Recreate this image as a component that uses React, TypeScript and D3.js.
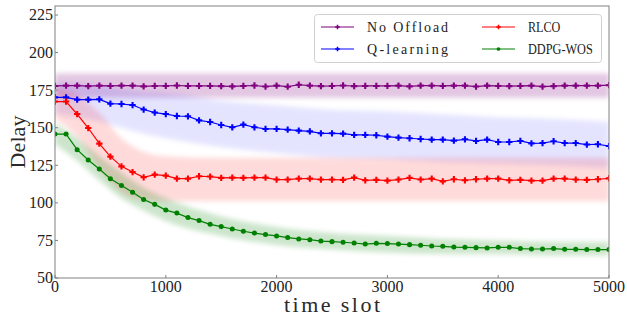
import React from "react";
import * as d3 from "d3";

const W = 627;
const H = 321;
const M = { left: 55, right: 18, top: 6, bottom: 43 };

const seriesNames = ["No Offload", "Q-learning", "RLCO", "DDPG-WOS"];
const seriesColors = ["#800080", "#0000ff", "#ff0000", "#008000"];
const cloudOpacity = [0.22, 0.1, 0.14, 0.2];

const timeSlots = d3.range(0, 5001, 100);

const noOffload = [177.8,178.0,178.0,177.7,178.0,177.8,178.0,178.0,177.5,177.8,177.8,178.1,177.8,177.8,177.8,177.7,177.5,
  177.8,178.1,177.4,178.0,177.3,178.6,178.0,177.7,177.8,178.1,177.7,177.8,177.8,177.8,178.0,177.5,
  178.0,178.0,177.8,178.0,178.0,177.4,178.0,177.8,177.7,177.8,178.0,177.4,177.7,178.0,178.0,178.0,178.0,178.3];
const qLearning = [170.2,170.2,168.7,168.7,168.9,166.0,165.8,165.1,162.1,160.1,159.1,157.8,157.6,154.9,153.8,151.8,150.3,
  152.1,150.3,149.2,149.2,148.7,148.1,147.6,146.3,146.3,146.1,145.2,145.2,145.0,144.1,143.4,143.0,
  142.5,142.1,142.1,141.4,142.3,141.2,142.1,140.5,140.5,141.2,139.6,139.8,141.0,139.8,139.8,138.8,139.0,137.8];
const rlco = [167.4,167.4,159.1,149.8,139.4,130.8,124.3,120.5,117.0,118.8,118.1,116.1,116.1,117.7,117.5,116.6,116.8,
  116.6,116.8,116.8,115.5,115.5,116.1,116.1,115.5,115.5,115.3,116.8,115.0,115.3,114.8,115.5,116.6,
  115.5,116.1,114.3,115.7,115.0,115.7,116.1,116.1,115.0,115.3,114.8,114.8,116.1,116.1,115.5,115.3,115.7,116.3];
const ddpgWos = [145.8,145.8,135.4,128.5,122.5,116.1,111.5,107.0,102.2,99.0,95.2,93.2,90.2,88.2,85.7,84.2,82.6,
  81.1,79.9,78.9,78.0,76.9,76.0,75.5,74.6,74.2,73.8,73.3,72.6,73.1,72.9,72.6,72.2,
  71.8,71.3,71.1,70.6,70.4,70.2,70.0,70.4,70.4,69.6,69.3,69.3,69.6,69.1,69.1,68.9,68.9,68.9];

// spread of the noisy per-slot samples (upper / lower envelopes)
const cloudSlots = [0, 200, 400, 600, 800, 1000, 1500, 2000, 2500, 3000, 3500, 4000, 4500, 5000];
const noOffloadUpper = [186,186,186,186,186,186,186,186,186,186,186,186,186,186];
const noOffloadLower = [170,170,170,170,170,170,170,170,170,170,170,170,170,170];
const qLearningUpper = [180,179,178,176,174,173,168,165,162,161,159,157,156,154];
const qLearningLower = [159,157,154,150,146,143,137,133,130,129,127,126,125,123];
const rlcoUpper = [177,172,160,143,134,131,130,130,130,130,130,130,130,130];
const rlcoLower = [156,144,123,107,102,101,101,101,101,101,101,101,101,101];
const ddpgUpper = [153,143,131,120,110,103,91,84,80,78,76,75,74,74];
const ddpgLower = [139,128,115,103,95,88,78,72,69,67,66,66,65,65];

const xTicks = [0, 1000, 2000, 3000, 4000, 5000];
const yTicks = [50, 75, 100, 125, 150, 175, 200, 225];

const lineValues = [noOffload, qLearning, rlco, ddpgWos];
const uppers = [noOffloadUpper, qLearningUpper, rlcoUpper, ddpgUpper];
const lowers = [noOffloadLower, qLearningLower, rlcoLower, ddpgLower];

export default function App() {
  const x = d3.scaleLinear().domain([0, 5000]).range([M.left, W - M.right]);
  const y = d3.scaleLinear().domain([50, 231]).range([H - M.bottom, M.top]);

  const line = d3.line<number>().x((_, i) => x(timeSlots[i])).y((d) => y(d));
  const area = d3
    .area<number>()
    .x((_, i) => x(cloudSlots[i]))
    .curve(d3.curveMonotoneX);

  const plus = d3.symbol().type(d3.symbolCross).size(22)()!;
  const circle = d3.symbol().type(d3.symbolCircle).size(20)()!;
  const plusSmall = d3.symbol().type(d3.symbolCross).size(12)()!;
  const circleSmall = d3.symbol().type(d3.symbolCircle).size(11)()!;

  const simFont = "'Liberation Serif', 'DejaVu Serif', serif";
  const serif = "'Liberation Serif', 'DejaVu Serif', serif";
  const axisColor = "#808080";
  const x0 = M.left, x1 = W - M.right, y0 = H - M.bottom, y1 = M.top;

  const legendItems = [
    { i: 0, lx: 321, ty: 27, adj: "spacing" },
    { i: 1, lx: 321, ty: 49, adj: "spacing" },
    { i: 2, lx: 482, ty: 27, adj: "spacingAndGlyphs" },
    { i: 3, lx: 482, ty: 49, adj: "spacingAndGlyphs" },
  ];

  return (
    <svg width={W} height={H} style={{ position: "absolute", left: 0, top: 0, background: "#fff" }}>
      <defs>
        <filter id="soft" x="-10%" y="-30%" width="120%" height="160%">
          <feGaussianBlur stdDeviation="2.4" />
        </filter>
        <clipPath id="plot">
          <rect x={x0} y={y1} width={x1 - x0} height={y0 - y1} />
        </clipPath>
      </defs>
      <g clipPath="url(#plot)">
        {lineValues.map((_, s) => (
          <path
            key={"c" + s}
            d={area.y0((_, i) => y(lowers[s][i])).y1((d) => y(d))(uppers[s]) || ""}
            fill={seriesColors[s]}
            opacity={cloudOpacity[s]}
            filter="url(#soft)"
          />
        ))}
        {lineValues.map((vals, s) => (
          <g key={"l" + s}>
            <path d={line(vals) || ""} fill="none" stroke={seriesColors[s]} strokeWidth={1.2} />
            {vals.map((v, i) => (
              <path
                key={i}
                d={s === 3 ? circle : plus}
                transform={`translate(${x(timeSlots[i])},${y(v)})`}
                fill={seriesColors[s]}
              />
            ))}
          </g>
        ))}
      </g>
      <rect x={x0} y={y1} width={x1 - x0} height={y0 - y1} fill="none" stroke={axisColor} strokeWidth={1} />
      {xTicks.map((t) => (
        <g key={"xt" + t}>
          <line x1={x(t)} x2={x(t)} y1={y0} y2={y0 - 3} stroke={axisColor} />
          <text x={x(t)} y={292} textAnchor="middle" fontFamily={serif} fontSize={16} fill="#222">
            {t}
          </text>
        </g>
      ))}
      {yTicks.map((t) => (
        <g key={"yt" + t}>
          <line x1={x0} x2={x0 + 3} y1={y(t)} y2={y(t)} stroke={axisColor} />
          <text x={53} y={y(t)} dy="0.34em" textAnchor="end" fontFamily={serif} fontSize={16} fill="#222">
            {t}
          </text>
        </g>
      ))}
      <text
        x={(x0 + x1) / 2}
        y={311.5}
        textAnchor="middle"
        fontFamily={simFont}
        fontSize={22}
        textLength={96}
        lengthAdjust="spacing"
        fill="#2a2a2a"
      >
        time slot
      </text>
      <text
        transform={`translate(25,${(y0 + y1) / 2}) rotate(-90)`}
        textAnchor="middle"
        fontFamily={simFont}
        fontSize={22}
        textLength={53}
        lengthAdjust="spacing"
        fill="#2a2a2a"
      >
        Delay
      </text>
      <rect x={314.5} y={14.5} width={287} height={48} rx={3} fill="#fff" fillOpacity={0.8} stroke="#d0d0d0" />
      {legendItems.map(({ i, lx, ty, adj }) => (
        <g key={"lg" + i}>
          <line x1={lx} x2={lx + 33} y1={ty} y2={ty} stroke={seriesColors[i]} strokeWidth={1.2} />
          <path d={i === 3 ? circleSmall : plusSmall} transform={`translate(${lx + 16.5},${ty})`} fill={seriesColors[i]} />
          <text
            x={lx + 46}
            y={ty}
            dy="0.34em"
            fontFamily={simFont}
            fontSize={14}
            textLength={seriesNames[i].length * 8.1}
            lengthAdjust={adj}
            fill="#222"
          >
            {seriesNames[i]}
          </text>
        </g>
      ))}
    </svg>
  );
}
